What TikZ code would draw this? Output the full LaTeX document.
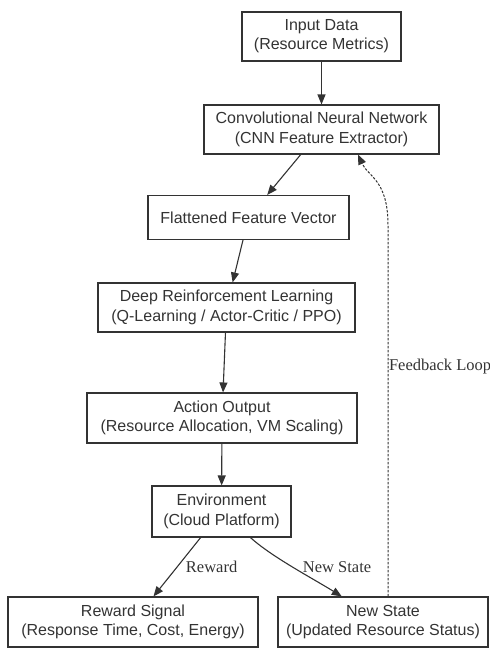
\documentclass[tikz,border=0pt]{standalone}
\usepackage{fontspec}
\setmainfont{Liberation Sans}
\newfontfamily\edgefont{Liberation Serif}
\usetikzlibrary{arrows.meta}

\begin{document}
\begin{tikzpicture}[x = 1pt, y = -1pt,
    box/.style = {draw = black!80, line width = 1.1pt, align = center, inner sep = 0pt,
      text = black!80, font = \fontsize{16}{19.3}\selectfont},
    flow/.style = {draw = black!80, line width = 1.1pt,
      -{Triangle[length = 10pt, width = 8pt]}},
    edgelabel/.style = {text = black!80, font = \edgefont\fontsize{16.5}{19}\selectfont}]
      \useasboundingbox (0, 0) rectangle (490, 648);
      \node [box, minimum width = 159, minimum height = 49] (input) at (321.5, 36.5)
        {Input Data\\(Resource Metrics)};
      \node [box, minimum width = 235, minimum height = 49] (cnn) at (321.5, 129.5)
        {Convolutional Neural Network\\(CNN Feature Extractor)};
      \node [box, minimum width = 201, minimum height = 44] (flat) at (248.5, 217.5)
        {Flattened Feature Vector};
      \node [box, minimum width = 257, minimum height = 49] (drl) at (226.5, 307.5)
        {Deep Reinforcement Learning\\(Q-Learning / Actor-Critic / PPO)};
      \node [box, minimum width = 270, minimum height = 50] (action) at (222, 418)
        {Action Output\\(Resource Allocation, VM Scaling)};
      \node [box, minimum width = 139, minimum height = 51] (env) at (221.5, 511.5)
        {Environment\\(Cloud Platform)};
      \node [box, minimum width = 250, minimum height = 50] (reward) at (133, 622)
        {Reward Signal\\(Response Time, Cost, Energy)};
      \node [box, minimum width = 210, minimum height = 50] (newstate) at (383, 622)
        {New State\\(Updated Resource Status)};
      \coordinate (fb) at (388, 225);
      \coordinate (tip) at (358, 0);
      \draw [flow] (input) -- (cnn);
      \draw [flow] (cnn) -- (flat);
      \draw [flow] (flat) -- (drl);
      \draw [flow] (drl) -- (action);
      \draw [flow] (action) -- (env);
      \draw [flow] (env) -- node [edgelabel, right, xshift = 5] {Reward} (reward);
      \draw [flow] (env) .. controls (272, 557) and (312, 578) ..
        node [edgelabel, right, xshift = 6] {New State} (newstate);
      \draw [flow, dash pattern = on 2.5pt off 1.5pt, line width = 1pt] (newstate.north -| fb)
        -- node [edgelabel, right, pos = 0.62, inner sep = 0.5pt] {Feedback Loop} (fb)
        .. controls +(0, -45) and +(10, 22) .. (cnn.south -| tip);
    \end{tikzpicture}
\end{document}
